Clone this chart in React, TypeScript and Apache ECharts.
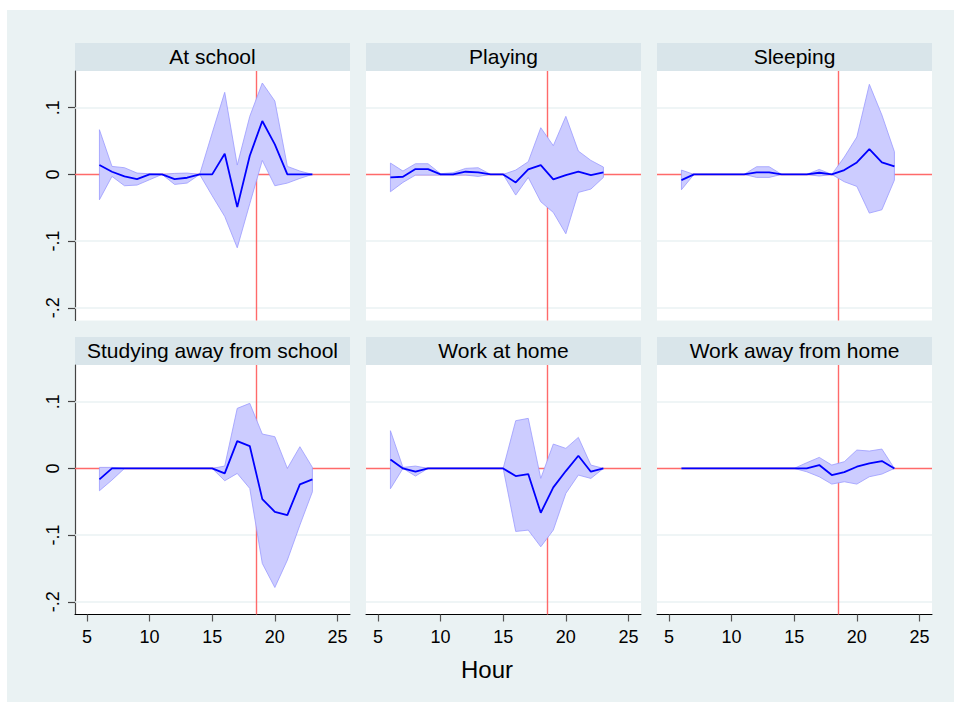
import React, { useEffect, useRef } from "react";
import * as echarts from "echarts";

const hours = [6, 7, 8, 9, 10, 11, 12, 13, 14, 15, 16, 17, 18, 19, 20, 21, 22, 23];
const xTicks = [5, 10, 15, 20, 25];
const yTicks = [-0.2, -0.1, 0, 0.1];
const yTickLabels = ["-.2", "-.1", "0", ".1"];
const cutoffHour = 18.5;
const xLabel = "Hour";

const panelTitles = [
  "At school",
  "Playing",
  "Sleeping",
  "Studying away from school",
  "Work at home",
  "Work away from home",
];

const atSchoolEst = [0.014, 0.004, -0.003, -0.007, 0, 0, -0.007, -0.005, 0, 0, 0.031, -0.049, 0.028, 0.08, 0.045, 0, 0, 0];
const atSchoolHi = [0.067, 0.012, 0.01, 0.002, 0.001, 0, 0.0015, 0.002, 0, 0.062, 0.123, 0.014, 0.087, 0.137, 0.11, 0.012, 0.005, 0];
const atSchoolLo = [-0.038, -0.003, -0.017, -0.016, -0.008, 0, -0.015, -0.013, 0, -0.032, -0.063, -0.11, -0.044, 0.021, -0.017, -0.013, -0.006, 0];

const playingEst = [-0.0045, -0.0035, 0.008, 0.008, 0, 0, 0.004, 0.003, 0, 0, -0.012, 0.0075, 0.014, -0.0075, -0.001, 0.004, -0.001, 0.003];
const playingHi = [0.017, 0.005, 0.016, 0.016, 0.001, 0.0025, 0.009, 0.01, 0, 0, 0.0065, 0.019, 0.07, 0.043, 0.087, 0.035, 0.021, 0.011];
const playingLo = [-0.026, -0.012, -0.001, -0.001, -0.001, -0.001, -0.001, -0.003, 0, 0, -0.031, -0.0045, -0.041, -0.057, -0.089, -0.027, -0.022, -0.0045];

const sleepingEst = [-0.0085, 0, 0, 0, 0, 0, 0.003, 0.003, 0, 0, 0, 0.0025, 0, 0.0065, 0.018, 0.038, 0.018, 0.012];
const sleepingHi = [0.0065, 0, 0, 0, 0, 0, 0.0115, 0.0115, 0, 0, 0, 0.0075, 0, 0.026, 0.056, 0.135, 0.089, 0.034];
const sleepingLo = [-0.023, 0, 0, 0, 0, 0, -0.0045, -0.0045, 0, 0, 0, -0.0025, 0, -0.011, -0.018, -0.058, -0.053, -0.0085];

const studyingEst = [-0.0165, 0, 0, 0, 0, 0, 0, 0, 0, 0, -0.0075, 0.041, 0.0335, -0.046, -0.065, -0.07, -0.024, -0.0165];
const studyingHi = [0.0015, 0.0015, 0, 0, 0, 0, 0, 0, 0, 0, 0.0035, 0.09, 0.0975, 0.0515, 0.0475, 0, 0.0325, 0.0015];
const studyingLo = [-0.0335, -0.0175, 0, 0, 0, 0, 0, 0, 0, 0, -0.0185, -0.0075, -0.03, -0.1425, -0.1785, -0.1375, -0.085, -0.035];

const workHomeEst = [0.0135, 0, -0.005, 0, 0, 0, 0, 0, 0, 0, -0.0115, -0.0085, -0.0665, -0.0285, -0.004, 0.019, -0.005, 0];
const workHomeHi = [0.0565, 0.0015, 0.0035, 0, 0, 0, 0, 0, 0, 0, 0.0715, 0.075, -0.015, 0.0365, 0.03, 0.0465, 0.005, 0];
const workHomeLo = [-0.0305, 0, -0.0115, 0, 0, 0, 0, 0, 0, 0, -0.0945, -0.0925, -0.1175, -0.0925, -0.0375, -0.01, -0.015, 0];

const workAwayEst = [0, 0, 0, 0, 0, 0, 0, 0, 0, 0, 0, 0.005, -0.01, -0.0055, 0.0025, 0.0075, 0.011, 0];
const workAwayHi = [0, 0, 0, 0, 0, 0, 0, 0, 0, 0, 0.0085, 0.0165, 0.005, 0.01, 0.0275, 0.026, 0.029, 0];
const workAwayLo = [0, 0, 0, 0, 0, 0, 0, 0, 0, 0, -0.005, -0.0125, -0.0235, -0.02, -0.0235, -0.0125, -0.0085, 0];

const panelEst = [atSchoolEst, playingEst, sleepingEst, studyingEst, workHomeEst, workAwayEst];
const panelHi = [atSchoolHi, playingHi, sleepingHi, studyingHi, workHomeHi, workAwayHi];
const panelLo = [atSchoolLo, playingLo, sleepingLo, studyingLo, workHomeLo, workAwayLo];

const FONT = "Liberation Sans, Arial, Helvetica, sans-serif";
const colLefts = [75, 366, 657];
const colWidth = 275;
const rowTops = [71, 365];
const rowHeight = 249.5;
const stripHeight = 28;

export default function App() {
  const ref = useRef<HTMLDivElement>(null);

  useEffect(() => {
    document.body.style.margin = "0";
    if (!ref.current) return;
    const chart = echarts.init(ref.current, undefined, { renderer: "svg" });

    const grids: any[] = [];
    const xAxes: any[] = [];
    const yAxes: any[] = [];
    const series: any[] = [];
    const graphics: any[] = [];

    panelTitles.forEach((title, i) => {
      const r = Math.floor(i / 3);
      const c = i % 3;
      const left = colLefts[c];
      const top = rowTops[r];
      grids.push({
        left,
        top,
        width: colWidth,
        height: rowHeight,
        show: true,
        backgroundColor: "#ffffff",
        borderWidth: 0,
        containLabel: false,
      });
      const bottomRow = r === 1;
      const leftCol = c === 0;
      xAxes.push({
        type: "value",
        gridIndex: i,
        min: 4.05,
        max: 26,
        position: "bottom",
        axisLine: { show: bottomRow, onZero: false, lineStyle: { color: "#000000", width: 1 } },
        axisTick: { show: bottomRow, customValues: xTicks, length: 7, lineStyle: { color: "#555555", width: 1.2 } },
        axisLabel: {
          show: bottomRow,
          customValues: xTicks,
          fontSize: 18,
          fontFamily: FONT,
          color: "#000000",
          margin: 13,
        },
        splitLine: { show: false },
      });
      yAxes.push({
        type: "value",
        gridIndex: i,
        min: -0.219,
        max: 0.155,
        position: "left",
        axisLine: { show: leftCol, onZero: false, lineStyle: { color: "#444444", width: 1.2 } },
        axisTick: { show: leftCol, customValues: yTicks, length: 7, lineStyle: { color: "#444444", width: 1.2 } },
        axisLabel: {
          show: leftCol,
          customValues: yTicks,
          rotate: 90,
          fontSize: 18,
          fontFamily: FONT,
          color: "#000000",
          margin: 13,
          formatter: (v: number) => {
            const k = yTicks.findIndex((t) => Math.abs(t - v) < 1e-9);
            return k >= 0 ? yTickLabels[k] : "";
          },
        },
        splitLine: { show: false },
      });

      const est = panelEst[i];
      const hi = panelHi[i];
      const lo = panelLo[i];

      // reference lines (gridlines + red lines) under the band
      series.push({
        type: "line",
        xAxisIndex: i,
        yAxisIndex: i,
        data: hours.map((h, j) => [h, est[j]]),
        showSymbol: false,
        symbol: "none",
        lineStyle: { opacity: 0, width: 0 },
        silent: true,
        z: 1,
        markLine: {
          silent: true,
          z: 1,
          symbol: "none",
          label: { show: false },
          emphasis: { disabled: true },
          data: [
            ...yTicks
              .filter((t) => t !== 0)
              .map((t) => ({ yAxis: t, lineStyle: { color: "#eaf2f3", width: 1.6, type: "solid" } })),
            { yAxis: 0, lineStyle: { color: "#ff6a6a", width: 1.4, type: "solid" } },
            { xAxis: cutoffHour, lineStyle: { color: "#ff6a6a", width: 1.4, type: "solid" } },
          ],
        },
      });

      // confidence band as a polygon through the axes' scales
      series.push({
        type: "custom",
        xAxisIndex: i,
        yAxisIndex: i,
        data: hours.map((h, j) => [h, lo[j], hi[j]]),
        encode: { x: 0, y: [1, 2] },
        silent: true,
        z: 2,
        renderItem: (params: any, api: any) => {
          if (params.dataIndex !== 0) return null;
          const upper = hours.map((h, j) => api.coord([h, hi[j]]));
          const lower = hours.map((h, j) => api.coord([h, lo[j]])).reverse();
          return {
            type: "polygon",
            shape: { points: upper.concat(lower) },
            style: { fill: "#ccccff", stroke: "#9a9aff", lineWidth: 0.8 },
          };
        },
      });

      series.push({
        type: "line",
        xAxisIndex: i,
        yAxisIndex: i,
        data: hours.map((h, j) => [h, est[j]]),
        symbol: "none",
        showSymbol: false,
        lineStyle: { color: "#0000ff", width: 1.8 },
        silent: true,
        z: 4,
      });

      const stripTop = top - stripHeight;
      graphics.push({
        type: "rect",
        shape: { x: left, y: stripTop, width: colWidth, height: stripHeight },
        style: { fill: "#d9e5ea" },
        silent: true,
      });
      graphics.push({
        type: "text",
        x: left + colWidth / 2,
        y: stripTop + stripHeight / 2 - 1,
        style: {
          text: title,
          fontSize: 21,
          fontFamily: FONT,
          fill: "#000000",
          align: "center",
          verticalAlign: "middle",
        },
        silent: true,
      });
    });

    graphics.push({
      type: "text",
      x: 487,
      y: 669,
      style: {
        text: xLabel,
        fontSize: 24,
        fontFamily: FONT,
        fill: "#000000",
        align: "center",
        verticalAlign: "middle",
      },
      silent: true,
    });

    chart.setOption({
      animation: false,
      backgroundColor: "transparent",
      grid: grids,
      xAxis: xAxes,
      yAxis: yAxes,
      series,
      graphic: graphics,
    });

    return () => {
      chart.dispose();
    };
  }, []);

  return (
    <div style={{ position: "relative", width: 954, height: 702, background: "#ffffff" }}>
      <div
        style={{
          position: "absolute",
          left: 7,
          top: 10,
          width: 947,
          height: 692,
          background: "#eaf2f3",
        }}
      />
      <div ref={ref} style={{ position: "absolute", left: 0, top: 0, width: 954, height: 702 }} />
    </div>
  );
}
